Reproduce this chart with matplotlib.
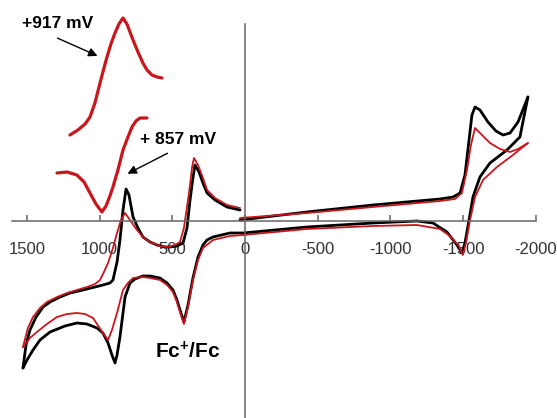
import matplotlib.pyplot as plt

# potentials in mV, current in arbitrary units
# black CV: forward scan to negative potentials
blk_neg_E = [34, -426, -880, -1341, -1431, -1479, -1513, -1541, -1561, -1582, -1616,
             -1671, -1726, -1775, -1823, -1878, -1946]
blk_neg_I = [0.1, 0.9, 1.6, 2.2, 2.4, 2.8, 4.6, 8.1, 10.6, 11.4, 11.1,
             9.9, 9.0, 8.6, 8.8, 9.9, 12.4]
# black CV: return from -2000 through 0 out to +1500
blk_ret_E = [-1946, -1891, -1802, -1685, -1616, -1568, -1541, -1513, -1492, -1458, -1389,
             -1293, -1183, -880, -426, 14, 103, 220, 261, 289, 323, 358, 392, 420, 447,
             468, 495, 536, 585, 653, 702, 757, 791, 825, 860, 880, 894, 915, 942, 977,
             1018, 1087, 1156, 1238, 1341, 1410, 1458, 1499, 1527]
blk_ret_I = [12.4, 8.4, 7.1, 5.8, 4.4, 2.4, 0.1, -2.2, -3.2, -2.4, -1.1,
             -0.2, 0.0, -0.2, -0.6, -1.2, -1.2, -1.6, -1.9, -2.4, -3.6, -5.7, -8.4, -10.1, -8.9,
             -7.9, -6.9, -6.2, -5.7, -5.5, -5.5, -5.8, -6.2, -7.6, -11.6, -13.4, -14.2, -13.4, -12.2, -11.2,
             -10.7, -10.3, -10.2, -10.5, -11.1, -11.9, -12.9, -13.9, -14.7]
# black CV: back from +1500 to 0
blk_pos_E = [1527, 1506, 1479, 1437, 1389, 1341, 1272, 1204, 1114, 1032, 977, 929, 908,
             880, 860, 839, 818, 798, 770, 736, 702, 653, 605, 550, 516, 468, 426, 399,
             378, 358, 344, 316, 289, 261, 206, 124, 34]
blk_pos_I = [-14.7, -12.4, -10.9, -9.6, -8.6, -8.1, -7.6, -7.2, -6.9, -6.6, -6.4, -6.2, -5.9,
             -4.1, -1.9, 1.1, 3.2, 2.6, 0.4, -0.7, -1.6, -2.1, -2.4, -2.6, -2.6, -2.5, -2.2, -0.7,
             2.1, 4.3, 5.6, 4.9, 3.8, 2.8, 2.1, 1.4, 1.1]

# red CV
red_neg_E = [34, -426, -880, -1341, -1444, -1492, -1527, -1554, -1582, -1630, -1685,
             -1754, -1823, -1878, -1946]
red_neg_I = [0.3, 0.8, 1.4, 2.0, 2.2, 2.8, 5.1, 7.6, 9.3, 8.6, 7.8,
             7.2, 6.9, 7.2, 7.8]
red_ret_E = [-1946, -1843, -1733, -1637, -1582, -1548, -1520, -1499, -1472, -1410, -1341,
             -1183, -880, -426, 14, 103, 220, 289, 323, 358, 392, 420, 447, 468, 495,
             536, 585, 653, 702, 770, 805, 839, 880, 915, 942, 977, 1045, 1100, 1156,
             1224, 1293, 1362, 1431, 1479, 1527]
red_ret_I = [7.8, 6.6, 5.4, 4.1, 2.4, 0.1, -2.2, -3.4, -2.5, -1.5, -0.8,
             -0.4, -0.5, -0.8, -1.4, -1.5, -1.9, -2.7, -3.9, -5.9, -8.6, -10.3, -9.1, -8.1, -7.1,
             -6.4, -5.9, -5.7, -5.6, -5.7, -6.2, -6.9, -9.2, -10.9, -11.9, -11.2, -9.7, -9.3, -9.2,
             -9.3, -9.6, -10.3, -11.1, -11.7, -12.6]
red_pos_E = [1527, 1493, 1458, 1410, 1362, 1293, 1224, 1156, 1087, 1032, 997, 970, 942,
             908, 880, 853, 825, 791, 743, 702, 653, 585, 536, 481, 447, 420, 399, 378,
             365, 351, 323, 289, 261, 206, 124, 34]
red_pos_I = [-12.6, -10.7, -9.6, -8.7, -8.1, -7.6, -7.2, -6.9, -6.6, -6.3, -5.9, -5.1, -4.2,
             -2.7, -1.2, 0.1, 0.8, 0.1, -0.9, -1.6, -2.1, -2.5, -2.6, -2.4, -2.1, -0.7, 1.4, 3.6,
             5.3, 6.3, 5.6, 4.3, 3.1, 2.3, 1.6, 1.3]

# the two red traces drawn above the CV
top_E = [1204, 1149, 1100, 1066, 1032, 997, 970, 949, 922, 894, 867, 839, 812, 791,
         770, 736, 702, 674, 640, 605, 571]
top_I = [8.6, 9.1, 9.7, 10.4, 11.8, 13.8, 15.3, 16.4, 17.7, 18.8, 19.7, 20.3, 19.7, 18.9,
         18.1, 16.9, 15.8, 15.1, 14.6, 14.4, 14.3]
mid_E = [1293, 1224, 1156, 1107, 1066, 1025, 984, 956, 929, 908, 874, 839, 805, 777,
         750, 722, 674]
mid_I = [4.8, 4.9, 4.6, 3.9, 2.8, 1.7, 0.9, 1.5, 2.5, 3.4, 5.1, 7.1, 8.4, 9.4,
         10.0, 10.3, 10.3]

xticks = [1500, 1000, 500, 0, -500, -1000, -1500, -2000]

red = "#c8161d"
plt.rcParams['font.family'] = ['Liberation Sans', 'DejaVu Sans']
plt.rcParams['mathtext.fontset'] = 'custom'
plt.rcParams['mathtext.bf'] = 'Liberation Sans:bold'
plt.rcParams['mathtext.rm'] = 'Liberation Sans'

fig = plt.figure(figsize=(5.57, 4.18), dpi=100)
ax = fig.add_axes([0, 0, 1, 1])

for E, I in [(blk_neg_E, blk_neg_I), (blk_ret_E, blk_ret_I), (blk_pos_E, blk_pos_I)]:
    ax.plot(E, I, color="black", lw=2.0, solid_capstyle="round")
for E, I in [(red_neg_E, red_neg_I), (red_ret_E, red_ret_I), (red_pos_E, red_pos_I)]:
    ax.plot(E, I, color=red, lw=1.3, solid_capstyle="round")
ax.plot(top_E, top_I, color=red, lw=2.3, solid_capstyle="round")
ax.plot(mid_E, mid_I, color=red, lw=2.3, solid_capstyle="round")

ax.set_xlim(1685, -2146)
ax.set_ylim(-19.7, 22.1)

for s in ["top", "right"]:
    ax.spines[s].set_visible(False)
ax.spines["left"].set_position(("data", 0))
ax.spines["bottom"].set_position(("data", 0))
ax.spines["left"].set_bounds(-19.7, 19.7)
ax.spines["bottom"].set_bounds(-2000, 1600)
for s in ["left", "bottom"]:
    ax.spines[s].set_color("#666666")
    ax.spines[s].set_linewidth(1.1)
ax.set_yticks([])
ax.set_xticks(xticks)
ax.set_xticklabels([str(t) for t in xticks])
ax.tick_params(axis="x", direction="in", length=4, width=1.1, color="#666666",
               pad=15, labelsize=12, labelcolor="#333333")
ax.patch.set_alpha(0)

ax.text(1534, 19.8, "+917 mV", fontsize=12.5, fontweight="bold", ha="left", va="center")
ax.annotate("", xy=(997, 16.4), xytext=(1307, 18.4),
            arrowprops=dict(arrowstyle="-|>", color="black", lw=1.0, mutation_scale=13))
ax.text(722, 8.1, "+ 857 mV", fontsize=12.5, fontweight="bold", ha="left", va="center")
ax.annotate("", xy=(825, 4.6), xytext=(516, 6.9),
            arrowprops=dict(arrowstyle="-|>", color="black", lw=1.0, mutation_scale=13))
ax.text(619, -13.1, r"$\mathbf{Fc^{+}/Fc}$", fontsize=15, ha="left", va="center")

fig.savefig("out.png", dpi=100)
